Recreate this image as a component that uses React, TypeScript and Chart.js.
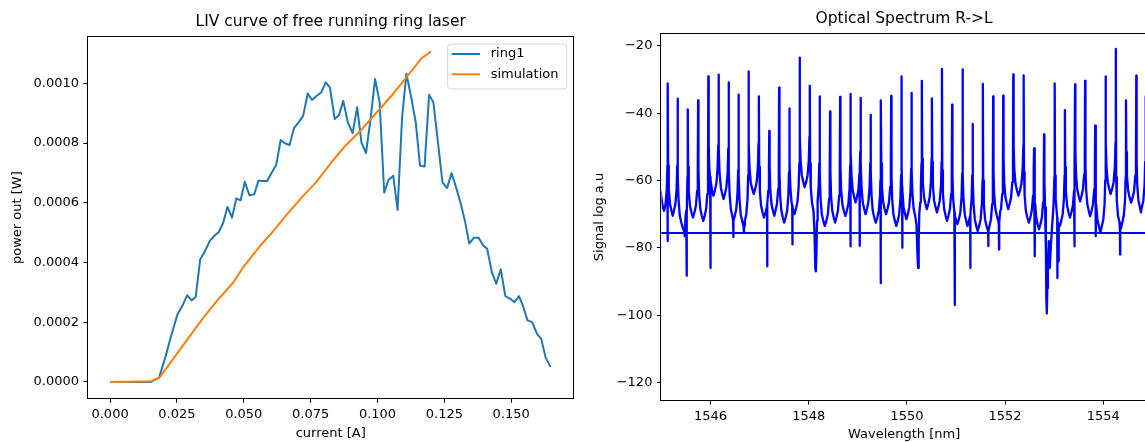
import React, { useEffect, useRef } from 'react';
import { Chart, registerables } from 'chart.js';

Chart.register(...registerables);

const FONT = "'DejaVu Sans', 'Liberation Sans', sans-serif";

// ---------- LIV curve data ----------
const livTitle = 'LIV curve of free running ring laser';
const livXLabel = 'current [A]';
const livYLabel = 'power out [W]';
const livXTicks = [0, 0.025, 0.05, 0.075, 0.1, 0.125, 0.15];
const livYTicks = [0, 0.0002, 0.0004, 0.0006, 0.0008, 0.001];

const ring1Current = [
  0, 0.0156, 0.0162, 0.0183, 0.0206, 0.0228, 0.0252, 0.027, 0.0288, 0.0305, 0.032, 0.0337, 0.0355,
  0.0373, 0.039, 0.0407, 0.0423, 0.0439, 0.0456, 0.0472, 0.0488, 0.0504, 0.0521, 0.0539, 0.0555,
  0.0571, 0.0587, 0.0605, 0.0621, 0.0638, 0.0654, 0.0671, 0.0688, 0.0705, 0.0722, 0.0739, 0.0755,
  0.0773, 0.079, 0.0806, 0.0822, 0.084, 0.0856, 0.0872, 0.0889, 0.0907, 0.0924, 0.094, 0.0957,
  0.0974, 0.0991, 0.1008, 0.1025, 0.1041, 0.1059, 0.1075, 0.1092, 0.1108, 0.1126, 0.1143, 0.1159,
  0.1176, 0.1193, 0.1209, 0.1226, 0.1243, 0.126, 0.1277, 0.1294, 0.131, 0.1327, 0.1343, 0.1361,
  0.1378, 0.1394, 0.141, 0.1428, 0.1444, 0.1461, 0.1478, 0.1495, 0.1512, 0.1529, 0.1542, 0.1561,
  0.1578, 0.1596, 0.1612, 0.1629, 0.1647,
];
const ring1Power = [
  0, 0, 0.0000055, 0.0000133, 0.0000804, 0.000153, 0.000226, 0.000254, 0.00029, 0.000273, 0.000284,
  0.00041, 0.000438, 0.000472, 0.000489, 0.000502, 0.000533, 0.000586, 0.00055, 0.000614, 0.000608,
  0.00067, 0.000625, 0.000628, 0.000674, 0.000673, 0.000673, 0.000701, 0.000726, 0.00081, 0.000799,
  0.000793, 0.00085, 0.000869, 0.000891, 0.000966, 0.000944, 0.000958, 0.00097, 0.001003, 0.000986,
  0.00088, 0.000894, 0.000941, 0.000869, 0.000833, 0.00092, 0.000802, 0.000766, 0.00088, 0.001014,
  0.000936, 0.000634, 0.000676, 0.00069, 0.000576, 0.000886, 0.001032, 0.000953, 0.000869, 0.000724,
  0.000721, 0.000962, 0.000936, 0.000802, 0.000668, 0.000649, 0.000699, 0.000651, 0.000601, 0.000539,
  0.000463, 0.000483, 0.000483, 0.000458, 0.000446, 0.000366, 0.000329, 0.000377, 0.000287, 0.000279,
  0.000267, 0.000287, 0.000259, 0.000206, 0.0002, 0.000162, 0.000144, 0.0000804, 0.0000502,
];
const simCurrent = [
  0, 0.0156, 0.0186, 0.0239, 0.0294, 0.0349, 0.0404, 0.046, 0.0501, 0.0556, 0.0611, 0.0667, 0.0722,
  0.077, 0.0832, 0.088, 0.0936, 0.0998, 0.1053, 0.1108, 0.1163, 0.12,
];
const simPower = [
  0, 0.000002, 0.0000157, 0.0000805, 0.000148, 0.000215, 0.000276, 0.000332, 0.000388, 0.00045,
  0.000506, 0.000567, 0.000623, 0.000668, 0.00074, 0.000791, 0.000841, 0.000903, 0.000959, 0.00102,
  0.001082, 0.001107,
];
const ring1Label = 'ring1';
const simLabel = 'simulation';

// ---------- Optical spectrum data ----------
const specTitle = 'Optical Spectrum R->L';
const specXLabel = 'Wavelength [nm]';
const specYLabel = 'Signal log a.u';
const specXTicks = [1546, 1548, 1550, 1552, 1554];
const specYTicks = [-120, -100, -80, -60, -40, -20];
const floorLevel = -75.6;
const floorSpan = [1544.9, 1556];

const spectrum: [number, number][] = [
  [1544.95, -58], [1544.98, -63], [1545.0, -65], [1545.03, -68],
  [1545.055, -69], [1545.085, -67], [1545.11, -62.5], [1545.123, -55.5], [1545.126, -78], [1545.13, -31.2], [1545.137, -55.5], [1545.15, -62.5], [1545.175, -67], [1545.205, -69],
  [1545.23, -70.5],
  [1545.255, -69], [1545.285, -67], [1545.31, -62.5], [1545.323, -55.5], [1545.33, -35.7], [1545.337, -59], [1545.35, -66], [1545.375, -70.5], [1545.405, -72.5],
  [1545.434, -74], [1545.46, -75], [1545.475, -76.5],
  [1545.49, -71], [1545.505, -69], [1545.512, -75], [1545.516, -88.3], [1545.52, -70], [1545.53, -59], [1545.537, -38.9], [1545.544, -56], [1545.557, -63], [1545.582, -67.5], [1545.612, -69.5],
  [1545.642, -71],
  [1545.673, -69.5], [1545.703, -67.5], [1545.728, -63], [1545.741, -56], [1545.748, -36.2], [1545.755, -57], [1545.768, -64], [1545.793, -68.5], [1545.823, -70.5],
  [1545.852, -72],
  [1545.881, -70.5], [1545.911, -68.5], [1545.936, -64], [1545.949, -57], [1545.956, -29.1], [1545.963, -49.5], [1545.976, -56.5], [1545.992, -59], [1545.998, -86], [1546.004, -60], [1546.031, -63],
  [1546.06, -64.5],
  [1546.089, -63], [1546.119, -61], [1546.144, -56.5], [1546.157, -49.5], [1546.164, -28.6], [1546.171, -50.5], [1546.184, -57.5], [1546.209, -62], [1546.239, -64],
  [1546.266, -65.5],
  [1546.294, -64], [1546.324, -62], [1546.349, -57.5], [1546.362, -50.5], [1546.369, -30.9], [1546.376, -57], [1546.389, -64], [1546.414, -68.5], [1546.444, -70.5],
  [1546.46, -72], [1546.465, -76.8], [1546.47, -72],
  [1546.495, -70.5], [1546.525, -68.5], [1546.55, -64], [1546.563, -57], [1546.57, -34.5], [1546.577, -58.5], [1546.59, -65.5], [1546.615, -70], [1546.645, -72],
  [1546.672, -73.5], [1546.68, -75.5], [1546.688, -73.5],
  [1546.699, -72], [1546.729, -70], [1546.754, -65.5], [1546.767, -58.5], [1546.774, -27.6], [1546.781, -49], [1546.794, -56], [1546.819, -60.5], [1546.849, -62.5],
  [1546.88, -64],
  [1546.91, -62.5], [1546.94, -60.5], [1546.965, -56], [1546.978, -49], [1546.985, -35], [1546.992, -56], [1547.005, -63], [1547.03, -67.5], [1547.06, -69.5],
  [1547.09, -71],
  [1547.122, -69.5], [1547.145, -68], [1547.152, -67], [1547.155, -85.5], [1547.158, -67], [1547.177, -63], [1547.19, -56], [1547.197, -45.3], [1547.204, -55.5], [1547.217, -62.5], [1547.242, -67], [1547.272, -69],
  [1547.3, -70.5],
  [1547.323, -69], [1547.353, -67], [1547.378, -62.5], [1547.391, -55.5], [1547.398, -32.4], [1547.405, -57.5], [1547.418, -64.5], [1547.443, -69], [1547.473, -71],
  [1547.5, -72.5],
  [1547.531, -71], [1547.561, -69], [1547.586, -64.5], [1547.599, -57.5], [1547.606, -38.6], [1547.613, -55], [1547.626, -62], [1547.651, -66.5], [1547.664, -67.5], [1547.668, -79], [1547.672, -68], [1547.681, -68.5],
  [1547.71, -70],
  [1547.74, -68.5], [1547.77, -66.5], [1547.795, -62], [1547.808, -55], [1547.815, -23.5], [1547.822, -47], [1547.835, -54], [1547.86, -58.5], [1547.89, -60.5],
  [1547.918, -62],
  [1547.947, -60.5], [1547.977, -58.5], [1548.002, -54], [1548.015, -47], [1548.022, -31.9], [1548.029, -55], [1548.042, -62], [1548.067, -66.5], [1548.097, -69], [1548.115, -74], [1548.135, -86], [1548.145, -87], [1548.16, -80], [1548.17, -72],
  [1548.182, -66], [1548.202, -62], [1548.215, -55], [1548.222, -35], [1548.229, -58.5], [1548.242, -65.5], [1548.267, -70], [1548.297, -72],
  [1548.328, -73.5],
  [1548.36, -72], [1548.39, -70], [1548.415, -65.5], [1548.428, -58.5], [1548.435, -39.5], [1548.442, -57.5], [1548.455, -64.5], [1548.48, -69], [1548.51, -71],
  [1548.538, -72.5],
  [1548.565, -71], [1548.595, -69], [1548.62, -64.5], [1548.633, -57.5], [1548.64, -35.2], [1548.647, -55.5], [1548.66, -62.5], [1548.685, -67], [1548.715, -69],
  [1548.746, -70.5],
  [1548.777, -69], [1548.807, -67], [1548.832, -62.5], [1548.845, -55.5], [1548.848, -79.6], [1548.852, -34.3], [1548.859, -51.5], [1548.872, -58.5], [1548.897, -63], [1548.927, -65],
  [1548.954, -66.5],
  [1548.981, -65], [1549.011, -63], [1549.034, -58], [1549.038, -79.4], [1549.042, -57], [1549.049, -51.5], [1549.056, -35.5], [1549.063, -55], [1549.076, -62], [1549.101, -66.5], [1549.131, -68.5],
  [1549.158, -70],
  [1549.185, -68.5], [1549.215, -66.5], [1549.24, -62], [1549.253, -55], [1549.26, -40.5], [1549.267, -57.5], [1549.28, -64.5], [1549.305, -69], [1549.335, -71],
  [1549.366, -72.5],
  [1549.397, -71], [1549.427, -69], [1549.452, -64.5], [1549.461, -60], [1549.465, -90.5], [1549.468, -58], [1549.472, -36.2], [1549.479, -55], [1549.492, -62], [1549.517, -66.5], [1549.547, -68.5],
  [1549.576, -70],
  [1549.605, -68.5], [1549.635, -66.5], [1549.66, -62], [1549.673, -55], [1549.68, -34.9], [1549.687, -58.5], [1549.7, -65.5], [1549.725, -70], [1549.755, -72],
  [1549.784, -73.5],
  [1549.813, -72], [1549.843, -70], [1549.868, -65.5], [1549.881, -58.5], [1549.888, -29.1], [1549.895, -56.5], [1549.902, -62], [1549.906, -80], [1549.91, -63], [1549.933, -68], [1549.963, -70],
  [1549.99, -71.5],
  [1550.018, -70], [1550.048, -68], [1550.073, -63.5], [1550.086, -56.5], [1550.093, -34], [1550.1, -57], [1550.113, -64], [1550.138, -68.5], [1550.168, -70.5], [1550.195, -73], [1550.215, -82], [1550.228, -86], [1550.24, -78],
  [1550.252, -70], [1550.272, -66.5], [1550.284, -62], [1550.297, -55], [1550.304, -30.4], [1550.311, -53.5], [1550.324, -60.5], [1550.349, -65], [1550.379, -67],
  [1550.406, -68.5],
  [1550.434, -67], [1550.464, -65], [1550.489, -60.5], [1550.502, -53.5], [1550.509, -35.6], [1550.516, -54.5], [1550.529, -61.5], [1550.554, -66], [1550.584, -68],
  [1550.612, -69.5],
  [1550.639, -68], [1550.669, -66], [1550.694, -61.5], [1550.707, -54.5], [1550.714, -26.9], [1550.721, -57], [1550.734, -64], [1550.759, -68.5], [1550.789, -70.5],
  [1550.818, -72],
  [1550.846, -70.5], [1550.876, -68.5], [1550.901, -64], [1550.914, -57], [1550.921, -37.5], [1550.928, -58], [1550.941, -65], [1550.966, -69.5], [1550.973, -70], [1550.976, -97], [1550.979, -70.5], [1550.996, -71.5],
  [1551.027, -73],
  [1551.058, -71.5], [1551.088, -69.5], [1551.113, -65], [1551.126, -58], [1551.133, -27], [1551.14, -58.5], [1551.153, -65.5], [1551.178, -70], [1551.208, -72],
  [1551.235, -73.5],
  [1551.263, -72], [1551.289, -70.5], [1551.292, -86], [1551.295, -70], [1551.318, -65.5], [1551.331, -58.5], [1551.338, -43.2], [1551.345, -60], [1551.358, -67], [1551.383, -71.5], [1551.413, -73.5],
  [1551.442, -75],
  [1551.472, -73.5], [1551.502, -71.5], [1551.527, -67], [1551.54, -60], [1551.547, -31.3], [1551.554, -60], [1551.567, -67], [1551.592, -71.5], [1551.622, -73.5], [1551.654, -75], [1551.658, -79.5], [1551.662, -75],
  [1551.682, -73.5], [1551.712, -71.5], [1551.737, -67], [1551.75, -60], [1551.757, -35], [1551.764, -57], [1551.777, -64], [1551.802, -68.5], [1551.832, -70.5], [1551.86, -72], [1551.872, -73], [1551.876, -80.5], [1551.88, -72.5],
  [1551.902, -69], [1551.917, -68.5], [1551.942, -64], [1551.955, -57], [1551.962, -34.8], [1551.969, -53.5], [1551.982, -60.5], [1552.007, -65], [1552.037, -67],
  [1552.064, -68.5],
  [1552.092, -67], [1552.122, -65], [1552.147, -60.5], [1552.16, -53.5], [1552.167, -28.5], [1552.174, -49.5], [1552.187, -56.5], [1552.212, -61], [1552.242, -63],
  [1552.272, -64.5],
  [1552.303, -63], [1552.333, -61], [1552.358, -56.5], [1552.371, -49.5], [1552.378, -28.8], [1552.385, -57.5], [1552.398, -64.5], [1552.423, -69], [1552.453, -71],
  [1552.484, -72.5],
  [1552.514, -71], [1552.544, -69], [1552.569, -64.5], [1552.582, -57.5], [1552.589, -50.5], [1552.596, -59.5], [1552.605, -65], [1552.609, -82.5], [1552.613, -67], [1552.634, -71], [1552.664, -73],
  [1552.69, -74.5],
  [1552.719, -73], [1552.749, -71], [1552.774, -66.5], [1552.787, -59.5], [1552.794, -46.3], [1552.801, -60], [1552.814, -68], [1552.83, -80], [1552.84, -95], [1552.85, -99.5], [1552.86, -92], [1552.872, -84], [1552.89, -78], [1552.91, -86], [1552.93, -80], [1552.955, -74], [1552.975, -70], [1552.99, -66], [1553.003, -59],
  [1553.01, -31.2], [1553.017, -58.5], [1553.03, -65.5], [1553.055, -70], [1553.061, -71], [1553.064, -89], [1553.068, -72], [1553.085, -73], [1553.09, -84], [1553.095, -73], [1553.118, -73.5],
  [1553.143, -72], [1553.173, -70], [1553.198, -65.5], [1553.211, -58.5], [1553.218, -39.1], [1553.225, -56], [1553.238, -63], [1553.263, -67.5], [1553.293, -69.5],
  [1553.32, -71],
  [1553.35, -69.5], [1553.38, -67.5], [1553.405, -63], [1553.41, -62], [1553.413, -79.6], [1553.416, -60], [1553.418, -56], [1553.425, -31.5], [1553.432, -51.2], [1553.445, -58.2], [1553.47, -62.7], [1553.5, -64.7],
  [1553.528, -66.2],
  [1553.555, -64.7], [1553.585, -62.7], [1553.61, -58.2], [1553.623, -51.2], [1553.63, -30.4], [1553.637, -55.6], [1553.65, -62.6], [1553.675, -67.1], [1553.705, -69.1],
  [1553.732, -70.6],
  [1553.76, -69.1], [1553.79, -67.1], [1553.815, -62.6], [1553.828, -55.6], [1553.835, -43.7], [1553.842, -60], [1553.848, -66], [1553.851, -76.5], [1553.855, -67], [1553.88, -71.5], [1553.91, -73.5],
  [1553.94, -75.5],
  [1553.971, -73.5], [1554.001, -71.5], [1554.026, -67], [1554.039, -60], [1554.046, -29.1], [1554.053, -49], [1554.066, -56], [1554.091, -60.5], [1554.121, -62.5],
  [1554.15, -64],
  [1554.18, -62.5], [1554.21, -60.5], [1554.235, -56], [1554.248, -49], [1554.255, -20.95], [1554.262, -59], [1554.275, -66], [1554.3, -70.5], [1554.33, -72.5], [1554.338, -74], [1554.342, -82], [1554.346, -74.5], [1554.365, -74],
  [1554.387, -72.5], [1554.417, -70.5], [1554.442, -66], [1554.455, -59], [1554.462, -36.2], [1554.469, -51.6], [1554.482, -58.6], [1554.507, -63.1], [1554.537, -65.1],
  [1554.567, -66.6],
  [1554.597, -65.1], [1554.627, -63.1], [1554.652, -58.6], [1554.665, -51.6], [1554.672, -28.9], [1554.679, -54.5], [1554.692, -61.5], [1554.717, -66], [1554.747, -68],
  [1554.766, -69.5],
  [1554.785, -68], [1554.815, -66], [1554.84, -61.5], [1554.853, -54.5], [1554.86, -35], [1554.867, -55], [1554.88, -62], [1554.905, -66.5], [1554.935, -68.5],
];

// ---------- shared helpers ----------
const ring1Color = '#1f77b4';
const simColor = '#ff7f0e';
const specColor = '#0000ff';

const framePlugin = {
  id: 'mplFrame',
  afterDatasetsDraw(chart: any) {
    const { ctx, chartArea: a } = chart;
    ctx.save();
    ctx.strokeStyle = '#000';
    ctx.lineWidth = 1;
    const l = Math.round(a.left) - 0.5;
    const t = Math.round(a.top) - 0.5;
    const r = Math.round(a.right) + 0.5;
    const b = Math.round(a.bottom) + 0.5;
    ctx.strokeRect(l, t, r - l, b - t);
    ctx.restore();
  },
};

const livLegendPlugin = {
  id: 'livLegend',
  afterDraw(chart: any) {
    const { ctx, chartArea: a } = chart;
    const w = 119;
    const h = 45;
    const right = a.right - 6.7;
    const left = right - w;
    const top = a.top + 7;
    const rad = 3;
    ctx.save();
    ctx.beginPath();
    ctx.moveTo(left + rad, top);
    ctx.lineTo(left + w - rad, top);
    ctx.arcTo(left + w, top, left + w, top + rad, rad);
    ctx.lineTo(left + w, top + h - rad);
    ctx.arcTo(left + w, top + h, left + w - rad, top + h, rad);
    ctx.lineTo(left + rad, top + h);
    ctx.arcTo(left, top + h, left, top + h - rad, rad);
    ctx.lineTo(left, top + rad);
    ctx.arcTo(left, top, left + rad, top, rad);
    ctx.closePath();
    ctx.globalAlpha = 0.8;
    ctx.fillStyle = '#ffffff';
    ctx.fill();
    ctx.strokeStyle = '#cccccc';
    ctx.lineWidth = 1;
    ctx.stroke();
    ctx.globalAlpha = 1;
    const items = chart.data.datasets;
    items.forEach((ds: any, i: number) => {
      const y = top + 10 + i * 20.3;
      ctx.strokeStyle = ds.borderColor;
      ctx.lineWidth = 2;
      ctx.beginPath();
      ctx.moveTo(left + 4, y);
      ctx.lineTo(left + 32.3, y);
      ctx.stroke();
      ctx.fillStyle = '#000';
      ctx.font = `13px ${FONT}`;
      ctx.textBaseline = 'middle';
      ctx.textAlign = 'left';
      ctx.fillText(ds.label, left + 43, y);
    });
    ctx.restore();
  },
};

const tickFont = { family: FONT, size: 13 };
const titleFont = { family: FONT, size: 15.5, weight: 'normal' as const, lineHeight: 1.2 };
const axisTitleFont = { family: FONT, size: 13, lineHeight: 1.2 };
const tickGrid = {
  display: true,
  drawOnChartArea: false,
  drawTicks: true,
  tickLength: 4.5,
  tickColor: '#000',
  tickWidth: 1,
};
const minusFmt = (v: number) => (v < 0 ? '\u2212' + Math.abs(v) : String(v));

export default function App() {
  const leftRef = useRef<HTMLCanvasElement>(null);
  const rightRef = useRef<HTMLCanvasElement>(null);

  useEffect(() => {
    const left = new Chart(leftRef.current as HTMLCanvasElement, {
      type: 'line',
      data: {
        datasets: [
          {
            label: ring1Label,
            data: ring1Current.map((x, i) => ({ x, y: ring1Power[i] })),
            borderColor: ring1Color,
            backgroundColor: ring1Color,
            borderWidth: 2,
            pointRadius: 0,
            tension: 0,
            order: 1,
            borderJoinStyle: 'round',
          },
          {
            label: simLabel,
            data: simCurrent.map((x, i) => ({ x, y: simPower[i] })),
            borderColor: simColor,
            backgroundColor: simColor,
            borderWidth: 2,
            pointRadius: 0,
            tension: 0,
            order: 0,
            borderJoinStyle: 'round',
          },
        ],
      },
      options: {
        responsive: false,
        animation: false,
        devicePixelRatio: 1,
        events: [],
        layout: { padding: { left: 0, right: 580 - 573.4, top: 0, bottom: 0 } },
        plugins: {
          legend: { display: false },
          tooltip: { enabled: false },
          title: {
            display: true,
            text: livTitle,
            fullSize: false,
            color: '#000',
            font: titleFont,
            padding: { top: 12.8, bottom: 5.6 },
          },
        },
        scales: {
          x: {
            type: 'linear',
            min: -0.00825,
            max: 0.17325,
            afterFit: (s: any) => {
              s.height = 442 - 398.3;
            },
            afterBuildTicks: (s: any) => {
              s.ticks = livXTicks.map((v) => ({ value: v }));
            },
            ticks: {
              callback: (v: any) => Number(v).toFixed(3),
              font: tickFont,
              color: '#000',
              padding: 4.5,
              maxRotation: 0,
              autoSkip: false,
            },
            grid: tickGrid,
            border: { display: false },
            title: {
              display: true,
              text: livXLabel,
              color: '#000',
              font: axisTitleFont,
              padding: { top: 0, bottom: 0.9 },
            },
          },
          y: {
            type: 'linear',
            min: -0.000055,
            max: 0.001155,
            afterFit: (s: any) => {
              s.width = 88;
            },
            afterBuildTicks: (s: any) => {
              s.ticks = livYTicks.map((v) => ({ value: v }));
            },
            ticks: {
              callback: (v: any) => Number(v).toFixed(4),
              font: tickFont,
              color: '#000',
              padding: 4.5,
              autoSkip: false,
            },
            grid: tickGrid,
            border: { display: false },
            title: {
              display: true,
              text: livYLabel,
              color: '#000',
              font: axisTitleFont,
              padding: { top: 10, bottom: 0 },
            },
          },
        },
      },
      plugins: [framePlugin, livLegendPlugin],
    } as any);

    const right = new Chart(rightRef.current as HTMLCanvasElement, {
      type: 'line',
      data: {
        datasets: [
          {
            label: 'spectrum',
            data: spectrum.map(([x, y]) => ({ x, y })),
            borderColor: specColor,
            backgroundColor: specColor,
            borderWidth: 2.3,
            pointRadius: 0,
            tension: 0,
            borderJoinStyle: 'round',
          },
          {
            label: 'floor',
            data: floorSpan.map((x) => ({ x, y: floorLevel })),
            borderColor: specColor,
            backgroundColor: specColor,
            borderWidth: 1.8,
            pointRadius: 0,
            tension: 0,
          },
        ],
      },
      options: {
        responsive: false,
        animation: false,
        devicePixelRatio: 1,
        events: [],
        layout: { padding: { left: 0, right: 600 - 566.8, top: 0, bottom: 0 } },
        plugins: {
          legend: { display: false },
          tooltip: { enabled: false },
          title: {
            display: true,
            text: specTitle,
            fullSize: false,
            color: '#000',
            font: titleFont,
            padding: { top: 9.7, bottom: 5.7 },
          },
        },
        scales: {
          x: {
            type: 'linear',
            min: 1545.0,
            max: 1554.886,
            afterFit: (s: any) => {
              s.height = 42;
            },
            afterBuildTicks: (s: any) => {
              s.ticks = specXTicks.map((v) => ({ value: v }));
            },
            ticks: {
              callback: (v: any) => String(v),
              font: tickFont,
              color: '#000',
              padding: 4.5,
              maxRotation: 0,
              autoSkip: false,
            },
            grid: tickGrid,
            border: { display: false },
            title: {
              display: true,
              text: specXLabel,
              color: '#000',
              font: axisTitleFont,
              padding: { top: 0, bottom: 0 },
            },
          },
          y: {
            type: 'linear',
            min: -125.2,
            max: -16.5,
            afterFit: (s: any) => {
              s.width = 81.4;
            },
            afterBuildTicks: (s: any) => {
              s.ticks = specYTicks.map((v) => ({ value: v }));
            },
            ticks: {
              callback: (v: any) => minusFmt(Number(v)),
              font: tickFont,
              color: '#000',
              padding: 4.5,
              autoSkip: false,
            },
            grid: tickGrid,
            border: { display: false },
            title: {
              display: true,
              text: specYLabel,
              color: '#000',
              font: axisTitleFont,
              padding: { top: 12, bottom: 0 },
            },
          },
        },
      },
      plugins: [framePlugin],
    } as any);

    return () => {
      left.destroy();
      right.destroy();
    };
  }, []);

  return (
    <div
      style={{
        position: 'fixed',
        left: 0,
        top: 0,
        width: 1145,
        height: 442,
        overflow: 'hidden',
        background: '#ffffff',
      }}
    >
      <canvas
        ref={leftRef}
        width={580}
        height={442}
        style={{ position: 'absolute', left: 0, top: 0, width: 580, height: 442 }}
      />
      <canvas
        ref={rightRef}
        width={600}
        height={442}
        style={{ position: 'absolute', left: 580, top: 0, width: 600, height: 442 }}
      />
    </div>
  );
}
